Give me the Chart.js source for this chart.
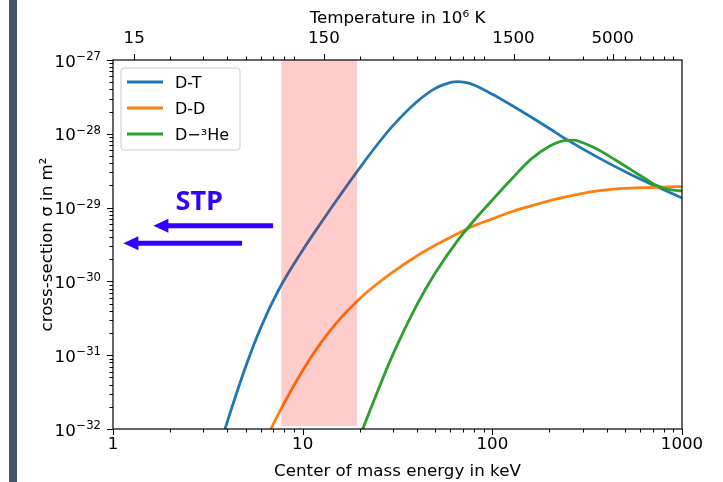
<!DOCTYPE html>
<html>
<head>
<meta charset="utf-8">
<script src="https://cdn.jsdelivr.net/npm/chart.js@4.4.1/dist/chart.umd.min.js"></script>
<style>
  html, body { margin: 0; padding: 0; background: #fff; }
  #wrap { position: relative; width: 723px; height: 482px; }
  #bar { position: absolute; left: 9px; top: 0; width: 8px; height: 482px; background: #44546a; }
  #fusionChart { position: absolute; left: 0; top: 0; }
</style>
</head>
<body>
<div id="wrap">
  <div id="bar"></div>
  <canvas id="fusionChart" width="723" height="482"></canvas>
</div>
<script>
// Tick values / labels
const energyTicks = [1, 10, 100, 1000];
const tempTicks = [15, 150, 1500, 5000];
const sigmaExponents = [-32, -31, -30, -29, -28, -27];
const KEV_TO_MK = 11.6; // 1 keV ~ 11.6 x 10^6 K

// Series
const seriesNames = ["D-T", "D-D", "D\u2212\u00b3He"];
const seriesColors = ["#1f77b4", "#ff7f0e", "#2ca02c"];

const dtEnergy = [3.5, 4, 5, 6, 7.5, 10, 12.5, 15, 20, 25, 30, 40, 50, 57, 65, 72, 80, 100, 125, 160, 200, 240, 360, 540, 800, 1000];
const dtSigma = [4.05e-33, 1.24e-32, 6.92e-32, 2.34e-31, 7.82e-31, 2.65e-30, 6.23e-30, 1.23e-29, 3.46e-29, 7.39e-29, 1.3e-28, 2.72e-28, 4.13e-28, 4.76e-28, 5.08e-28, 4.96e-28, 4.58e-28, 3.44e-28, 2.48e-28, 1.69e-28, 1.18e-28, 8.74e-29, 4.79e-29, 2.79e-29, 1.74e-29, 1.35e-29];

const ddEnergy = [6.5, 7.5, 10, 12.5, 15, 20, 25, 30, 40, 50, 65, 80, 100, 125, 160, 240, 360, 540, 800, 1000];
const ddSigma = [7.82e-33, 1.65e-32, 6.22e-32, 1.48e-31, 2.7e-31, 5.86e-31, 9.51e-31, 1.35e-30, 2.21e-30, 3.08e-30, 4.39e-30, 5.67e-30, 7.03e-30, 8.72e-30, 1.058e-29, 1.39e-29, 1.69e-29, 1.84e-29, 1.9e-29, 1.93e-29];

const dheEnergy = [20, 25, 30, 40, 50, 65, 80, 100, 125, 160, 200, 240, 270, 300, 360, 450, 540, 650, 720, 800, 900, 1000];
const dheSigma = [7.89e-33, 3.38e-32, 1.04e-31, 4.82e-31, 1.3e-30, 3.46e-30, 6.68e-30, 1.27e-29, 2.37e-29, 4.53e-29, 6.77e-29, 8.09e-29, 8.19e-29, 7.55e-29, 6.13e-29, 4.35e-29, 3.25e-29, 2.4e-29, 2.04e-29, 1.83e-29, 1.72e-29, 1.68e-29];

// Shaded band (keV range)
const bandEnergy = [7.7, 19.4];
const bandSigma = [1e-27, 1e-27];
const bandFloor = 1.1e-32;

// "STP" arrows and label, in data coordinates
const arrowFrom = [[6.98, 5.69e-30], [4.79, 3.28e-30]];
const arrowTo = [[1.633, 5.69e-30], [1.134, 3.28e-30]];
const stpText = "STP";
const stpAt = [2.85, 9.27e-30];

const FONT = "'DejaVu Sans', sans-serif";
const tickFont = { family: FONT, size: 16.7 };
const titleFont = { family: FONT, size: 16.7 };

function pairs(xs, ys) {
  return xs.map((x, i) => ({ x: x, y: ys[i] }));
}

// ticks 2..9 in every decade
function minorValues(fromExp, toExp) {
  const out = [];
  for (let e = fromExp; e < toExp; e++) {
    for (let m = 2; m <= 9; m++) out.push(m * Math.pow(10, e));
  }
  return out;
}

const extrasPlugin = {
  id: "extras",
  afterDraw(chart) {
    const { ctx, chartArea: a, scales } = chart;
    const xs = scales.x, ys = scales.y, xt = scales.x2;
    ctx.save();

    // tick marks
    ctx.strokeStyle = "#000";
    ctx.lineWidth = 1;
    ctx.beginPath();
    minorValues(0, 3).forEach((v) => {
      const px = Math.round(xs.getPixelForValue(v)) + 0.5;
      ctx.moveTo(px, a.bottom); ctx.lineTo(px, a.bottom + 3.5);
      ctx.moveTo(px, a.top); ctx.lineTo(px, a.top - 3.5);
    });
    minorValues(-32, -27).forEach((v) => {
      const py = Math.round(ys.getPixelForValue(v)) + 0.5;
      ctx.moveTo(a.left, py); ctx.lineTo(a.left - 3.5, py);
    });
    energyTicks.forEach((v) => {
      const px = Math.round(xs.getPixelForValue(v)) + 0.5;
      ctx.moveTo(px, a.bottom); ctx.lineTo(px, a.bottom + 6);
    });
    tempTicks.forEach((t) => {
      const px = Math.round(xt.getPixelForValue(t / KEV_TO_MK)) + 0.5;
      ctx.moveTo(px, a.top); ctx.lineTo(px, a.top - 6);
    });
    sigmaExponents.forEach((e) => {
      const py = Math.round(ys.getPixelForValue(Math.pow(10, e))) + 0.5;
      ctx.moveTo(a.left, py); ctx.lineTo(a.left - 6, py);
    });
    ctx.stroke();

    // frame
    ctx.lineWidth = 1.2;
    ctx.strokeRect(a.left, a.top, a.right - a.left, a.bottom - a.top);

    // y tick labels 10^e
    ctx.fillStyle = "#000";
    ctx.textAlign = "right";
    ctx.textBaseline = "alphabetic";
    sigmaExponents.forEach((e) => {
      const py = ys.getPixelForValue(Math.pow(10, e));
      const expStr = "\u2212" + Math.abs(e);
      ctx.font = "11.7px " + FONT;
      const ew = ctx.measureText(expStr).width;
      const xr = a.left - 12;
      ctx.fillText(expStr, xr, py);
      ctx.font = "16.7px " + FONT;
      ctx.fillText("10", xr - ew - 0.5, py + 6.5);
    });

    // legend
    const lx = a.left + 8, ly = a.top + 8, lw = 119, lh = 82;
    ctx.beginPath();
    ctx.roundRect(lx, ly, lw, lh, 3);
    ctx.fillStyle = "rgba(255,255,255,0.8)";
    ctx.fill();
    ctx.strokeStyle = "#cccccc";
    ctx.lineWidth = 1;
    ctx.stroke();
    ctx.textAlign = "left";
    ctx.font = "16px " + FONT;
    seriesNames.forEach((name, i) => {
      const y = ly + 14 + i * 26;
      ctx.strokeStyle = seriesColors[i];
      ctx.lineWidth = 2.8;
      ctx.beginPath();
      ctx.moveTo(lx + 6, y); ctx.lineTo(lx + 42, y);
      ctx.stroke();
      ctx.fillStyle = "#000";
      ctx.fillText(name, lx + 54, y + 6);
    });

    // STP arrows
    ctx.strokeStyle = "#3300ff";
    ctx.fillStyle = "#3300ff";
    arrowFrom.forEach((f, i) => {
      const x0 = xs.getPixelForValue(f[0]), y0 = ys.getPixelForValue(f[1]);
      const x1 = xs.getPixelForValue(arrowTo[i][0]);
      ctx.lineWidth = 5;
      ctx.beginPath();
      ctx.moveTo(x0, y0); ctx.lineTo(x1 + 12, y0);
      ctx.stroke();
      ctx.beginPath();
      ctx.moveTo(x1, y0);
      ctx.lineTo(x1 + 15, y0 - 7);
      ctx.lineTo(x1 + 15, y0 + 7);
      ctx.closePath();
      ctx.fill();
    });
    ctx.font = "bold 27px 'Open Sans', sans-serif";
    ctx.textAlign = "center";
    ctx.fillText(stpText, xs.getPixelForValue(stpAt[0]), ys.getPixelForValue(stpAt[1]));

    ctx.restore();
  },
};

const ctx = document.getElementById("fusionChart");

new Chart(ctx, {
  type: "line",
  data: {
    datasets: [
      {
        label: "band",
        data: pairs(bandEnergy, bandSigma),
        fill: { value: bandFloor },
        backgroundColor: "rgba(255,0,0,0.2)",
        borderColor: "rgba(0,0,0,0)",
        borderWidth: 0,
        pointRadius: 0,
        order: 0,
      },
      {
        label: seriesNames[0],
        data: pairs(dtEnergy, dtSigma),
        borderColor: seriesColors[0],
        borderWidth: 2.8,
        pointRadius: 0,
        cubicInterpolationMode: "monotone",
        fill: false,
        order: 3,
      },
      {
        label: seriesNames[1],
        data: pairs(ddEnergy, ddSigma),
        borderColor: seriesColors[1],
        borderWidth: 2.8,
        pointRadius: 0,
        cubicInterpolationMode: "monotone",
        fill: false,
        order: 2,
      },
      {
        label: seriesNames[2],
        data: pairs(dheEnergy, dheSigma),
        borderColor: seriesColors[2],
        borderWidth: 2.8,
        pointRadius: 0,
        cubicInterpolationMode: "monotone",
        fill: false,
        order: 1,
      },
    ],
  },
  options: {
    responsive: false,
    animation: false,
    layout: { padding: { left: 0, right: 41, top: 0, bottom: 0 } },
    scales: {
      x: {
        type: "logarithmic",
        position: "bottom",
        min: 1,
        max: 1000,
        grid: { display: false, drawTicks: false },
        border: { display: false },
        afterBuildTicks: (s) => {
          s.ticks = energyTicks.map((v) => ({ value: v }));
        },
        afterFit: (s) => {
          s.height = 53;
        },
        ticks: {
          autoSkip: false,
          maxRotation: 0,
          padding: 6,
          color: "#000",
          font: tickFont,
          callback: (v) => String(v),
        },
        title: {
          display: true,
          text: "Center of mass energy in keV",
          color: "#000",
          font: titleFont,
          padding: { top: 0, bottom: 0 },
        },
      },
      x2: {
        type: "logarithmic",
        position: "top",
        min: 1,
        max: 1000,
        grid: { display: false, drawTicks: false },
        border: { display: false },
        afterBuildTicks: (s) => {
          s.ticks = tempTicks.map((t) => ({ value: t / KEV_TO_MK }));
        },
        afterFit: (s) => {
          s.height = 60;
        },
        ticks: {
          autoSkip: false,
          maxRotation: 0,
          padding: 11,
          color: "#000",
          font: tickFont,
          callback: (v, i) => String(tempTicks[i]),
        },
        title: {
          display: true,
          text: "Temperature in 10\u2076 K",
          color: "#000",
          font: titleFont,
          padding: { top: 9, bottom: 0 },
        },
      },
      y: {
        type: "logarithmic",
        min: 1e-32,
        max: 1e-27,
        grid: { display: false, drawTicks: false },
        border: { display: false },
        afterBuildTicks: (s) => {
          s.ticks = sigmaExponents.map((e) => ({ value: Math.pow(10, e) }));
        },
        afterFit: (s) => {
          s.width = 113;
        },
        ticks: { callback: () => "" },
        title: {
          display: true,
          text: "cross-section \u03c3 in m\u00b2",
          color: "#000",
          font: titleFont,
          padding: { top: 38, bottom: 0 },
        },
      },
    },
    plugins: {
      legend: { display: false },
      tooltip: { enabled: false },
    },
  },
  plugins: [extrasPlugin],
});
</script>
</body>
</html>
